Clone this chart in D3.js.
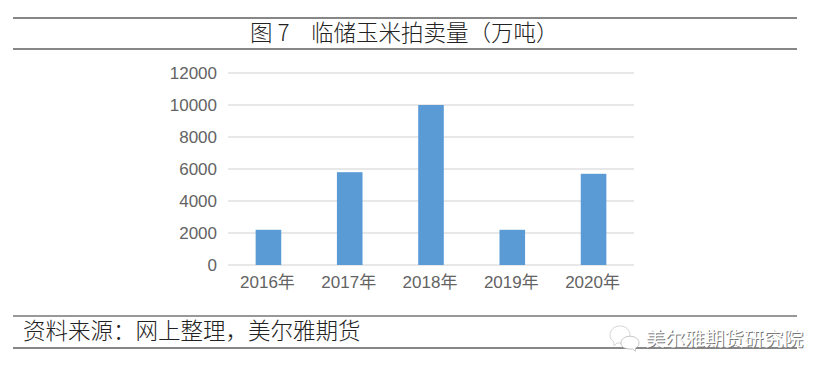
<!DOCTYPE html>
<html lang="zh">
<head>
    <meta charset="UTF-8">
    <script src="https://d3js.org/d3.v7.min.js"></script>
    <style>
        html, body { margin: 0; padding: 0; background: #fff; }
        svg { display: block; }
        text { font-family: "Noto Sans CJK SC", sans-serif; }
        .axis text { font-family: "Liberation Sans", "Noto Sans CJK SC", sans-serif; font-size: 17px; fill: #636363; }
        .axis path, .axis line { display: none; }
    </style>
</head>
<body>
    <svg id="chart" width="831" height="375"></svg>
    <script>
        const years = ["2016年", "2017年", "2018年", "2019年", "2020年"];
        const volumes = [2200, 5800, 10000, 2200, 5700];
        const yTicks = [0, 2000, 4000, 6000, 8000, 10000, 12000];

        const svg = d3.select("#chart");
        const margin = { top: 73, right: 197, bottom: 110, left: 228 };
        const width = 831, height = 375;

        const x = d3.scaleBand()
            .domain(years)
            .range([margin.left, width - margin.right])
            .paddingInner(0.685)
            .paddingOuter(0.34);

        const y = d3.scaleLinear()
            .domain([0, 12000])
            .range([height - margin.bottom, margin.top]);

        // gridlines
        svg.selectAll(".grid")
            .data(yTicks)
            .enter().append("line")
            .attr("x1", margin.left)
            .attr("x2", width - margin.right)
            .attr("y1", d => y(d))
            .attr("y2", d => y(d))
            .attr("stroke", "#e1e1e1")
            .attr("stroke-width", 1.5);

        svg.selectAll(".bar")
            .data(years)
            .enter().append("rect")
            .attr("x", d => x(d))
            .attr("y", (d, i) => y(volumes[i]))
            .attr("width", x.bandwidth())
            .attr("height", (d, i) => y(0) - y(volumes[i]))
            .attr("fill", "#5b9bd5");

        svg.append("g")
            .attr("class", "axis")
            .attr("transform", `translate(${margin.left - 11},0)`)
            .call(d3.axisLeft(y).tickValues(yTicks).tickSize(0).tickPadding(0).tickFormat(d => d));

        svg.append("g")
            .attr("class", "axis")
            .attr("transform", `translate(-1,${height - margin.bottom + 11})`)
            .call(d3.axisBottom(x).tickSize(0).tickPadding(0));

        // frame rules of the report page
        [[18, "#111"], [49, "#111"], [316, "#333"], [348, "#111"]].forEach(([ly, c]) => {
            svg.append("line")
                .attr("x1", 13).attr("x2", 797)
                .attr("y1", ly).attr("y2", ly)
                .attr("stroke", c).attr("stroke-width", 1.2);
        });

        svg.append("text")
            .attr("x", 250)
            .attr("y", 41)
            .style("font-size", "22.5px")
            .style("font-weight", 300)
            .attr("fill", "#222")
            .text("图 7");

        svg.append("text")
            .attr("x", 311)
            .attr("y", 41)
            .style("font-size", "22.5px")
            .style("font-weight", 300)
            .attr("fill", "#222")
            .text("临储玉米拍卖量（万吨）");

        svg.append("text")
            .attr("x", 23)
            .attr("y", 339)
            .style("font-size", "22.5px")
            .style("font-weight", 300)
            .attr("fill", "#222")
            .text("资料来源：网上整理，美尔雅期货");

        // watermark
        const wm = svg.append("g");
        const bubble = "M0,-9 C6,-9 10,-5 10,0 C10,5 6,8 0,8 L-3,8 L-6,11 L-6,7 C-9,5 -10,3 -10,0 C-10,-5 -6,-9 0,-9 Z";
        wm.append("path").attr("d", bubble)
            .attr("transform", "translate(620,335)")
            .attr("fill", "#fff").attr("stroke", "#ccc").attr("stroke-width", 0.8);
        wm.append("path").attr("d", bubble)
            .attr("transform", "translate(630,343) scale(-0.9,0.75)")
            .attr("fill", "#fff").attr("stroke", "#aaa").attr("stroke-width", 0.8);
        wm.append("text")
            .attr("x", 646.6).attr("y", 346.6)
            .style("font-size", "19.7px")
            .attr("fill", "#777")
            .text("美尔雅期货研究院");
        wm.append("text")
            .attr("x", 645.6).attr("y", 345.6)
            .style("font-size", "19.7px")
            .attr("fill", "#fff")
            .text("美尔雅期货研究院");
    </script>
</body>
</html>
